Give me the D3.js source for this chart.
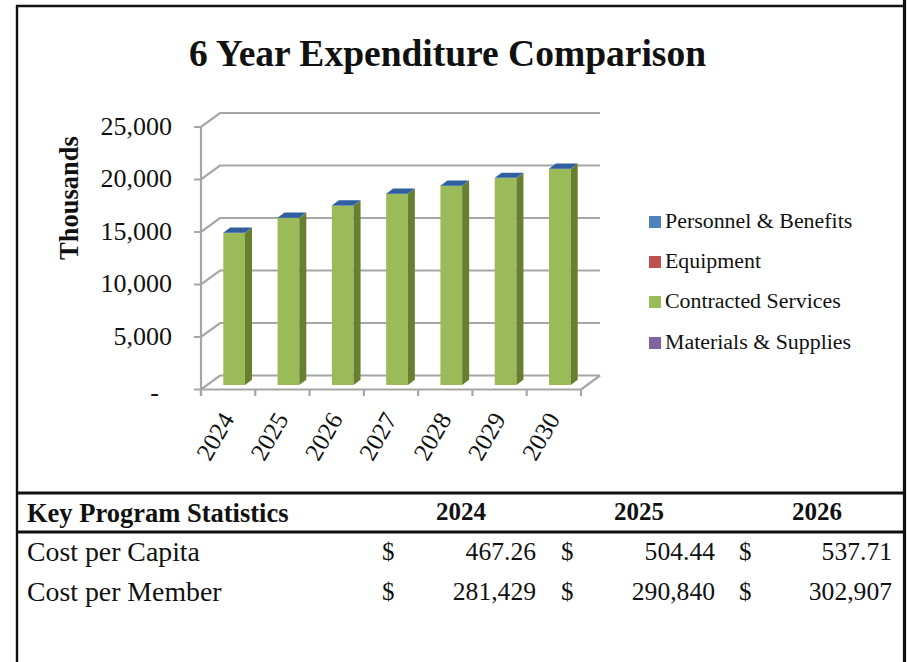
<!DOCTYPE html>
<html><head><meta charset="utf-8">
<script src="https://cdn.jsdelivr.net/npm/d3@7"></script>
<style>html,body{margin:0;padding:0;background:#fff}svg{display:block}text{font-family:"Liberation Serif",serif;fill:#111}</style>
</head><body><svg width="907" height="662"></svg>
<script>
const years = [2024,2025,2026,2027,2028,2029,2030];
const seriesNames = ["Contracted Services","Materials & Supplies","Equipment","Personnel & Benefits"];
const contracted = [14470,15900,17070,18190,18950,19700,20570];
const materials = [0,0,0,0,0,0,0];
const equipment = [0,0,0,0,0,0,0];
const personnel = [30,30,30,30,30,30,30];
const legendNames = ["Personnel & Benefits","Equipment","Contracted Services","Materials & Supplies"];
const legendColors = ["#4f81bd","#c0504d","#9bbb59","#8064a2"];
const yTicks = [0,5000,10000,15000,20000,25000];
const tableHead = ["Key Program Statistics","2024","2025","2026"];
const tableRows = [["Cost per Capita","467.26","504.44","537.71"],["Cost per Member","281,429","290,840","302,907"]];

const svg = d3.select("svg");
const x = d3.scaleBand().domain(years).range([201,581]).paddingInner(0.6).paddingOuter(0.3);
const xTick = d3.scaleLinear().domain([0,7]).range([201,581]);
const y = d3.scaleLinear().domain([0,25000]).range([389.5,127]);
const DX=19, DY=-14;
const grid="#a6a6a6";

// frame
const frame=[[16,6,903,6,2.4],[17,5,17,662,2.4],[904.5,0,904.5,662,3.2],[16,493,903,493,2.8],[16,532,903,532,2.8]];
svg.selectAll(".frame").data(frame).join("line").attr("x1",d=>d[0]).attr("y1",d=>d[1]).attr("x2",d=>d[2]).attr("y2",d=>d[3]).attr("stroke","#111").attr("stroke-width",d=>d[4]);

svg.append("text").attr("x",447.5).attr("y",66).attr("text-anchor","middle").attr("font-size",37.5).attr("font-weight","bold").text("6 Year Expenditure Comparison");

// gridlines
const g=svg.append("g").attr("fill","none").attr("stroke",grid).attr("stroke-width",2.2);
yTicks.forEach(v=>{
  g.append("path").attr("d",d3.line()([[194,y(v)],[201,y(v)],[201+DX,y(v)+DY],[581+DX,y(v)+DY]]));
});
g.append("line").attr("x1",201).attr("x2",201).attr("y1",y(25000)).attr("y2",396);
g.append("line").attr("x1",201).attr("x2",581).attr("y1",y(0)).attr("y2",y(0));
g.append("line").attr("x1",581).attr("x2",581+DX).attr("y1",y(0)).attr("y2",y(0)+DY);
d3.range(0,8).forEach(i=>g.append("line").attr("x1",xTick(i)).attr("x2",xTick(i)).attr("y1",y(0)).attr("y2",396));

// stacked 3D bars
const stackRows=years.map((yr,i)=>({yr,"Contracted Services":contracted[i],"Materials & Supplies":materials[i],"Equipment":equipment[i],"Personnel & Benefits":personnel[i]}));
const stacked=d3.stack().keys(seriesNames)(stackRows);
const fr={"Contracted Services":["#9bbb59","#67802f","#9bbb59"],"Materials & Supplies":["#8064a2","#5a4575","#8064a2"],"Equipment":["#c0504d","#8c3836","#c0504d"],"Personnel & Benefits":["#4f81bd","#38608f","#2f5f9e"]};
const d0=[6,-4.5], d1=[13,-9.7];
const bars=svg.append("g");
const poly=d3.line();
years.forEach((yr,i)=>{
  const left=x(yr)+d0[0], w=x.bandwidth();
  const sideW=d1[0]-d0[0], sideH=d1[1]-d0[1];
  stacked.forEach(s=>{
    const [a,b]=s[i]; if(b<=a) return;
    const c=fr[s.key];
    const yb=y(a)+d0[1], yt=y(b)+d0[1];
    bars.append("rect").attr("x",left).attr("y",yt).attr("width",w).attr("height",yb-yt).attr("fill",c[0]);
    bars.append("path").attr("fill",c[1]).attr("d",poly([[left+w,yb],[left+w+sideW,yb+sideH],[left+w+sideW,yt+sideH],[left+w,yt]])+"Z");
  });
  const top=stacked[stacked.length-1], yt=y(top[i][1])+d0[1];
  bars.append("path").attr("fill",fr[top.key][2]).attr("d",poly([[left,yt],[left+sideW,yt+sideH],[left+w+sideW,yt+sideH],[left+w,yt]])+"Z");
});

// axis labels
const fmt=d3.format(",");
svg.selectAll(".yl").data(yTicks).join("text").attr("x",v=>v===0?159:172).attr("y",v=>y(v)+(v===0?11:7.5)).attr("text-anchor","end").attr("font-size",26).text(v=>v===0?"-":fmt(v));
svg.selectAll(".xl").data(years).join("text").attr("font-size",25).attr("text-anchor","end")
  .attr("transform",(d,i)=>`translate(${xTick(i)+34},${419}) rotate(-60)`).text(d=>d);
svg.append("text").attr("transform","translate(78,198) rotate(-90)").attr("text-anchor","middle").attr("font-size",26.5).attr("font-weight","bold").text("Thousands");

// legend
const legY=[222,262,302,343];
svg.selectAll(".lr").data(legendNames).join("rect").attr("x",649).attr("y",(d,i)=>legY[i]-6).attr("width",12).attr("height",12).attr("fill",(d,i)=>legendColors[i]);
svg.selectAll(".lt").data(legendNames).join("text").attr("x",665).attr("y",(d,i)=>legY[i]+6).attr("font-size",21.9).text(d=>d);

// table
svg.append("text").attr("x",27).attr("y",522).attr("font-size",26.5).attr("font-weight","bold").text(tableHead[0]);
const colX=[461,639,817];
svg.selectAll(".th").data(tableHead.slice(1)).join("text").attr("x",(d,i)=>colX[i]).attr("y",520).attr("text-anchor","middle").attr("font-size",25).attr("font-weight","bold").text(d=>d);
const rowY=[561,601], dollarX=[382,561,739], valX=[536,715,892];
tableRows.forEach((r,ri)=>{
  svg.append("text").attr("x",27).attr("y",rowY[ri]).attr("font-size",27.8).text(r[0]);
  r.slice(1).forEach((v,i)=>{
    svg.append("text").attr("x",dollarX[i]).attr("y",rowY[ri]-1).attr("font-size",25).text("$");
    svg.append("text").attr("x",valX[i]).attr("y",rowY[ri]-1).attr("text-anchor","end").attr("font-size",25.6).text(v);
  });
});
</script></body></html>
